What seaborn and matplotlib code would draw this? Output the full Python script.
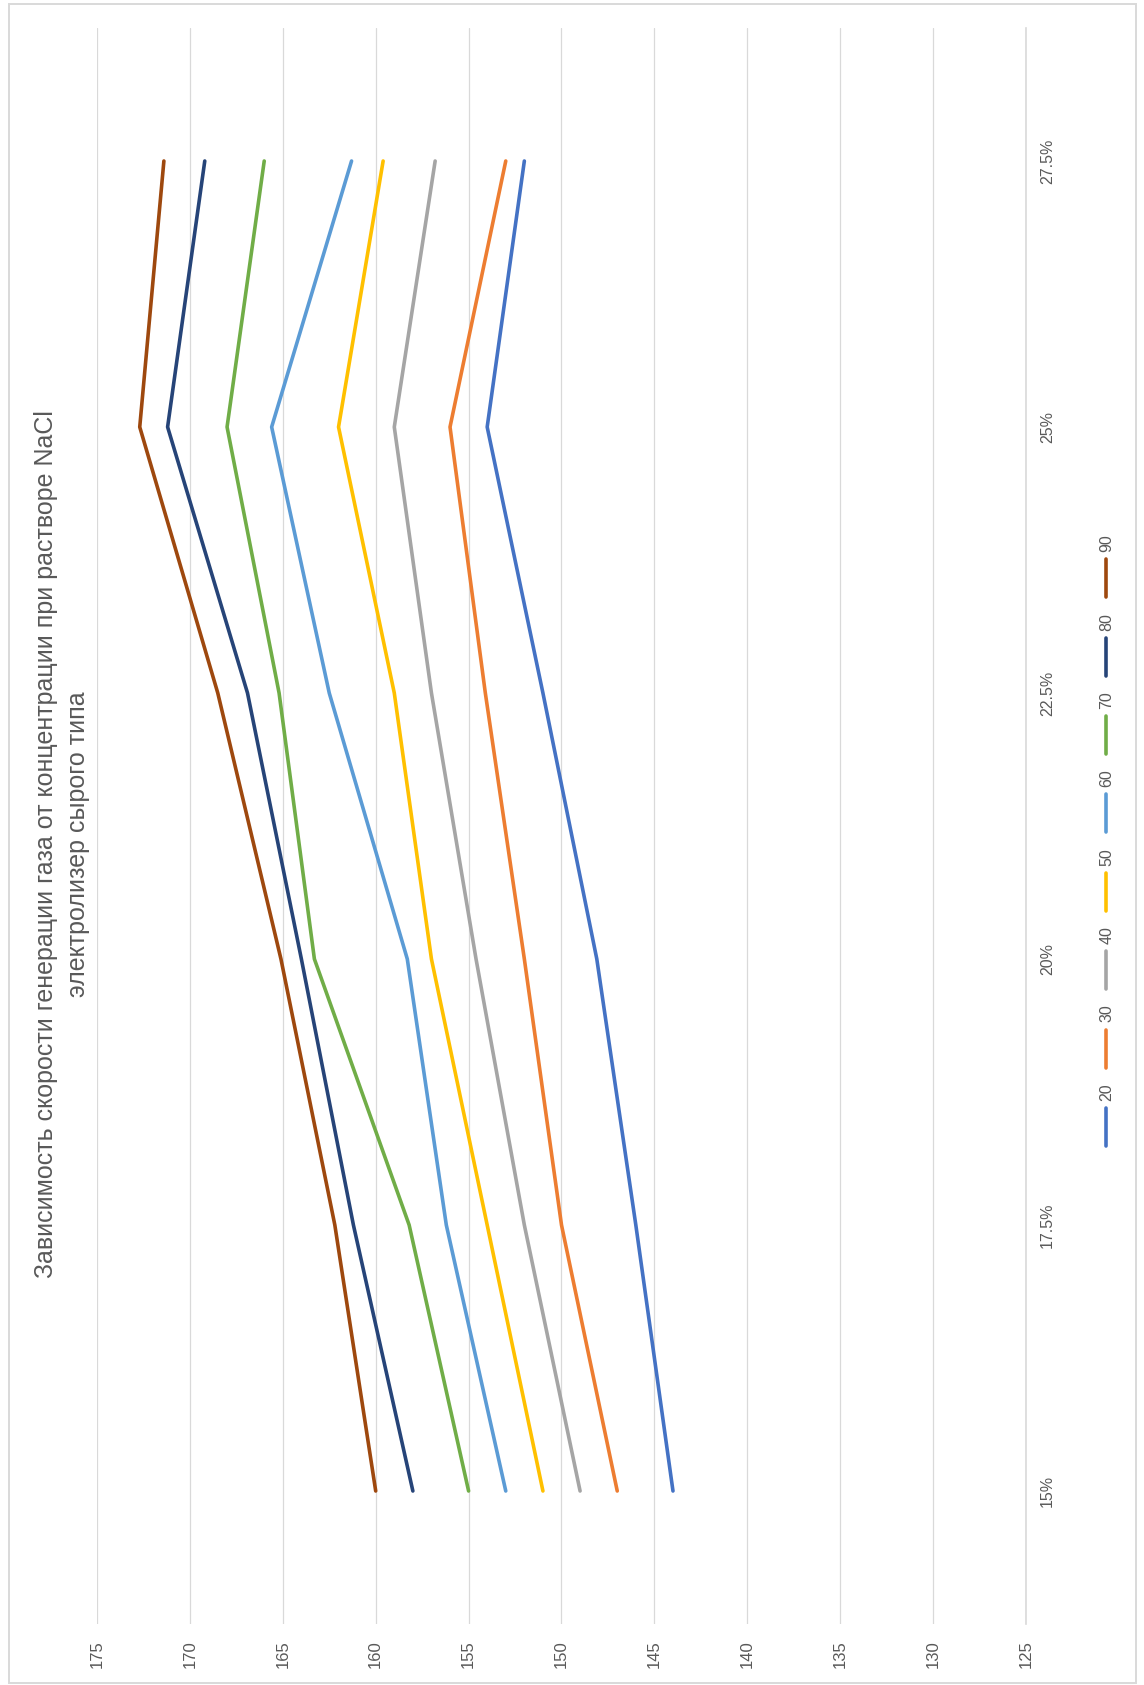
import numpy as np
import pandas as pd
import matplotlib
matplotlib.use("Agg")
import matplotlib.pyplot as plt
from matplotlib.lines import Line2D
from matplotlib.patches import Rectangle
import seaborn as sns

# Concentration categories and gas generation rate per series
categories = ["15%", "17.5%", "20%", "22.5%", "25%", "27.5%"]
series_names = ["20", "30", "40", "50", "60", "70", "80", "90"]
s20 = [144, 146, 148.1, 151, 154, 152]
s30 = [147, 150, 152, 154.1, 156, 153]
s40 = [149, 152, 154.6, 157, 159, 156.8]
s50 = [151, 154, 157, 159, 162, 159.6]
s60 = [153, 156.2, 158.3, 162.5, 165.6, 161.3]
s70 = [155, 158.2, 163.3, 165.2, 168, 166]
s80 = [158, 161.2, 164, 166.9, 171.2, 169.2]
s90 = [160, 162.2, 165.1, 168.5, 172.7, 171.4]
value_ticks = [125, 130, 135, 140, 145, 150, 155, 160, 165, 170, 175]

title = ("Зависимость скорости генерации газа от концентрации при растворе NaCl\n"
         "электролизер сырого типа")

colors = ["#4472C4", "#ED7D31", "#A5A5A5", "#FFC000",
          "#5B9BD5", "#70AD47", "#264478", "#9E480E"]

all_series = [s20, s30, s40, s50, s60, s70, s80, s90]
rows = []
for name, vals in zip(series_names, all_series):
    for i, v in enumerate(vals):
        rows.append({"series": name, "pos": i, "value": v})
df = pd.DataFrame(rows)

sns.set_style("white")
plt.rcParams["font.family"] = ["Liberation Sans", "DejaVu Sans"]
TXT = "#595959"
GRID = "#D9D9D9"

W, H = 1144, 1685
fig = plt.figure(figsize=(W / 100, H / 100), dpi=100)
fig.patch.set_facecolor("white")

# chart frame
fig.add_artist(Rectangle((9 / W, 2 / H), (1136 - 9) / W, (1681 - 2) / H,
                         transform=fig.transFigure, fill=False,
                         edgecolor=GRID, linewidth=1.4))

# plot area (chart drawn turned a quarter turn: values run horizontally)
left, right = 97 / W, 1026 / W
top_px, bot_px = 28, 1624
ax = fig.add_axes([left, 1 - bot_px / H, right - left, (bot_px - top_px) / H])

sns.lineplot(data=df, x="value", y="pos", hue="series", palette=colors,
             orient="y", sort=True, linewidth=2.6, legend=False, ax=ax,
             solid_capstyle="round")

ax.set_xlim(175, 125)
ax.set_ylim(-0.5, len(categories) - 0.5)
ax.set_xticks(value_ticks)
ax.set_xticklabels([str(v) for v in value_ticks])
ax.set_yticks(range(len(categories)))
ax.set_yticklabels(categories)
ax.yaxis.tick_right()
ax.set_xlabel("")
ax.set_ylabel("")
ax.grid(axis="x", color=GRID, linewidth=0.9)
ax.grid(axis="y", visible=False)
ax.set_axisbelow(True)
for side in ["top", "left", "bottom"]:
    ax.spines[side].set_visible(False)
ax.spines["right"].set_color(GRID)
ax.spines["right"].set_linewidth(1.2)
ax.tick_params(axis="x", length=0, pad=21.5, labelrotation=90,
               labelsize=12, labelcolor=TXT)
ax.tick_params(axis="y", length=0, pad=10, labelrotation=90,
               labelsize=11.5, labelcolor=TXT)
for t in ax.get_xticklabels():
    t.set_va("center")
    t.set_ha("center")
for t in ax.get_yticklabels():
    t.set_va("center")
    t.set_ha("left")

# title, reading upward along the left side
fig.text(62 / W, 1 - 844 / H, title, rotation=90, ha="center", va="center",
         multialignment="center", fontsize=18, color=TXT, linespacing=1.45)

# legend column on the right
for i, (name, c) in enumerate(zip(series_names, colors)):
    yc = 1127 - 78.4 * i
    fig.add_artist(Line2D([1106 / W, 1106 / W],
                          [1 - (yc + 19) / H, 1 - (yc - 19) / H],
                          transform=fig.transFigure, color=c, linewidth=2.6,
                          solid_capstyle="round"))
    fig.text(1107 / W, 1 - (yc - 35) / H, name, rotation=90, ha="center",
             va="center", fontsize=11.5, color=TXT)

fig.savefig("out.png", dpi=100, facecolor="white")
